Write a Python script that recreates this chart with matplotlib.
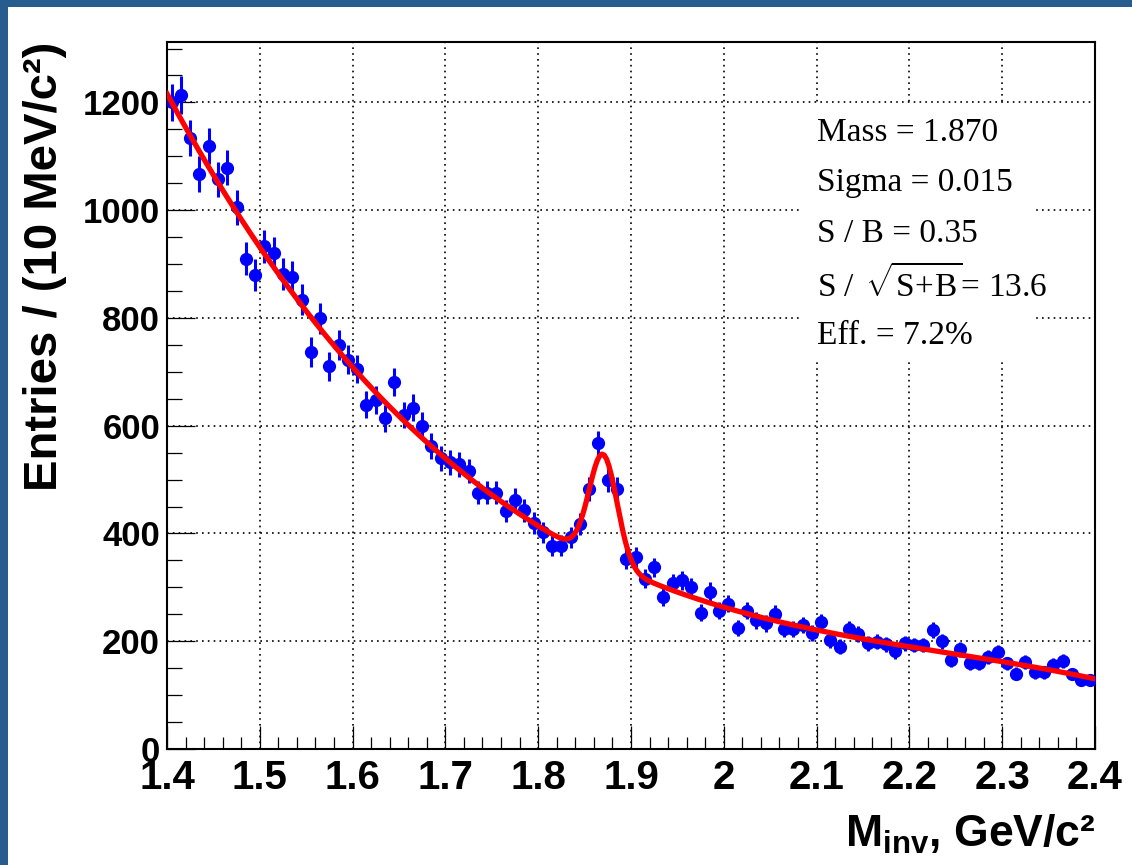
import numpy as np
import matplotlib.pyplot as plt
from matplotlib.patches import Rectangle
from matplotlib.ticker import MultipleLocator, FixedLocator

plt.rcParams['font.family'] = ['Liberation Sans', 'DejaVu Sans']
plt.rcParams['mathtext.fontset'] = 'custom'
plt.rcParams['mathtext.rm'] = 'Liberation Serif'
plt.rcParams['mathtext.it'] = 'Liberation Serif:italic'
plt.rcParams['mathtext.bf'] = 'Liberation Sans:bold'

# invariant mass histogram, 10 MeV bins from 1.4 to 2.4 GeV
bin_lo = 1.4
bin_w = 0.01
counts = np.array([
    1200, 1214, 1134, 1067, 1119, 1057, 1079, 1005, 910, 879,
    933, 920, 882, 876, 834, 737, 799, 710, 750, 722,
    705, 639, 648, 614, 681, 620, 633, 600, 562, 540,
    532, 528, 516, 476, 476, 476, 442, 463, 443, 420,
    402, 377, 377, 393, 417, 482, 567, 500, 482, 353,
    356, 316, 337, 282, 308, 313, 300, 253, 292, 257,
    270, 225, 257, 239, 233, 251, 223, 223, 230, 216,
    236, 202, 190, 223, 214, 196, 199, 194, 181, 196,
    193, 193, 220, 200, 165, 185, 159, 159, 171, 180,
    159, 140, 162, 142, 142, 156, 163, 139, 128, 128,
])

fit_mass = 1.870
fit_sigma = 0.015
stat_lines = ["Mass = 1.870", "Sigma = 0.015", "S / B = 0.35",
              r"S / $\,\sqrt{\mathrm{S\!+\!B}}$= 13.6", "Eff. = 7.2%"]

centers = bin_lo + bin_w * (np.arange(len(counts)) + 0.5)
errors = np.sqrt(counts)


# pol4 background + gaussian with fixed mass and width (linear weighted fit)
def design(x):
    t = x - 1.9
    cols = [t ** k for k in range(5)]
    cols.append(np.exp(-0.5 * ((x - fit_mass) / fit_sigma) ** 2))
    return np.column_stack(cols)


w = 1.0 / errors
coef, *_ = np.linalg.lstsq(design(centers) * w[:, None], counts * w, rcond=None)
x_fit = np.linspace(1.4, 2.4, 400)
y_fit = design(x_fit) @ coef

fig = plt.figure(figsize=(11.32, 8.65), dpi=100)
ax = fig.add_axes([0.1475, 0.1341, 0.8198, 0.8173])

# frame decoration on top and left edges
band = '#265c8e'
fig.patches.append(Rectangle((0, 1 - 7 / 865), 1, 7 / 865, transform=fig.transFigure,
                             facecolor=band, edgecolor='none', zorder=10))
fig.patches.append(Rectangle((0, 0), 8 / 1132, 1, transform=fig.transFigure,
                             facecolor=band, edgecolor='none', zorder=10))

ax.errorbar(centers, counts, yerr=errors, fmt='o', color='blue', ms=8.5,
            elinewidth=2.2, capsize=0, zorder=3)
ax.plot(x_fit, y_fit, color='red', lw=3.8, zorder=4)

ax.set_xlim(1.4, 2.4)
ax.set_ylim(0, 1312)
ax.xaxis.set_major_locator(FixedLocator(np.round(np.arange(1.4, 2.41, 0.1), 2)))
ax.xaxis.set_minor_locator(MultipleLocator(0.02))
ax.yaxis.set_major_locator(MultipleLocator(200))
ax.yaxis.set_minor_locator(MultipleLocator(50))
ax.set_xticklabels(['1.4', '1.5', '1.6', '1.7', '1.8', '1.9', '2', '2.1', '2.2', '2.3', '2.4'])

ax.grid(True, which='major', color='black', linestyle=(0, (1, 2.5)), lw=1.2, zorder=0)
ax.set_axisbelow(True)

ax.tick_params(axis='y', which='major', direction='in', length=20, width=0.9, pad=5,
               labelsize=25, right=False)
ax.tick_params(axis='y', which='minor', direction='in', length=11, width=0.9, right=False)
ax.tick_params(axis='x', which='major', direction='in', length=16.5, width=0.9, pad=7,
               labelsize=29, top=False)
ax.tick_params(axis='x', which='minor', direction='in', length=8.6, width=0.9, top=False)
for lbl in ax.get_xticklabels() + ax.get_yticklabels():
    lbl.set_fontweight('bold')

for s in ax.spines.values():
    s.set_linewidth(1.5)

ax.set_ylabel('Entries / (10 MeV/c²)', fontsize=34, fontweight='bold', loc='top')
ax.yaxis.set_label_coords(-0.108, 1.0)
ax.set_xlabel(r'$\mathbf{M_{inv}}$, GeV/c²', fontsize=32, fontweight='bold', loc='right')
ax.xaxis.set_label_coords(1.0, -0.09)

# stats pave
ax.add_patch(Rectangle((0.682, 0.55), 0.253, 0.361, transform=ax.transAxes,
                       facecolor='white', edgecolor='none', zorder=1))
for i, s in enumerate(stat_lines):
    ax.text(0.700, 0.872 - i * 0.0717, s, transform=ax.transAxes, fontsize=24,
            family='Liberation Serif', va='center', ha='left', zorder=5)

fig.savefig('out.png', dpi=100)
